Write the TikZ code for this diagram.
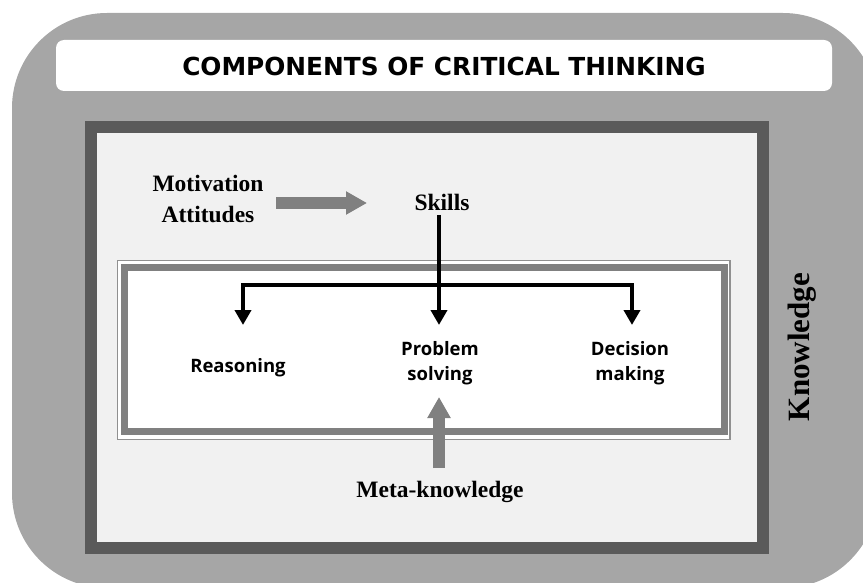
\documentclass[tikz,border=0pt]{standalone}
\usepackage{fontspec}
\setmainfont{Liberation Serif}
\newfontfamily\titlefont{DejaVu Sans}
\newfontfamily\handfont{Open Sans}
\usepackage{tikz}
\usetikzlibrary{arrows.meta}

\definecolor{outerGray}{HTML}{A6A6A6}
\definecolor{frameDark}{HTML}{5A5A5A}
\definecolor{panelGray}{HTML}{F1F1F1}
\definecolor{arrowGray}{HTML}{808080}
\definecolor{lineGray}{HTML}{909090}

\begin{document}
\begin{tikzpicture}[x=1pt,y=-1pt]
		\useasboundingbox (0,0) rectangle (863,583);
		% frames
		\begin{scope}
			\clip (0,0) rectangle (863,583);
			\fill[outerGray, rounded corners=95pt] (12,13) rectangle (878,588);
		\end{scope}
		\fill[white, rounded corners=8pt] (56,40) rectangle (832,91);
		\draw[frameDark, line width=12pt, fill=panelGray] (91,127) rectangle (762.5,548);
		\draw[lineGray, line width=1.5pt, fill=white] (117.5,260.5) rectangle (730,439.5);
		\draw[arrowGray, line width=7pt] (124,267) rectangle (724,431.5);

		\begin{scope}
			[
				styleTitle/.style={font=\titlefont\bfseries\fontsize{24.8}{28}\selectfont},
				styleSerif/.style={font=\bfseries\fontsize{23.5}{31}\selectfont, align=center},
				styleHand/.style={font=\handfont\bfseries\fontsize{18.5}{25}\selectfont, align=center},
			]
			\node(title)[styleTitle] at (444,66) {COMPONENTS OF CRITICAL THINKING};
			\node(motiv)[styleSerif] at (208,198.5) {Motivation\\Attitudes};
			\node(skills)[styleSerif] at (442,202) {Skills};
			\node(reas)[styleHand] at (238,368) {Reasoning};
			\node(prob)[styleHand] at (440,363.5) {Problem\\solving};
			\node(dec)[styleHand] at (630,363.5) {Decision\\making};
			\node(meta)[styleSerif] at (440,492) {Meta-knowledge};
			\node(know)[styleSerif, font=\bfseries\fontsize{31}{36}\selectfont, rotate=90] at (802,347) {Knowledge};

			\coordinate(motivOut) at (276,203);
			\coordinate(skillsIn) at (367,203);
			\coordinate(skillsOut) at (439,215);
			\coordinate(branchTop) at (439,285);
			\coordinate(reasTip) at (243,325);
			\coordinate(probTip) at (439,325);
			\coordinate(decTip) at (632,325);
			\coordinate(metaOut) at (439,468);
			\coordinate(probIn) at (439,397);
		\end{scope}

		\begin{scope}
			[ grayArrow/.style = {draw=arrowGray, line width=11.5pt, -{Triangle[length=21pt,width=22pt]}},
				blackArrow/.style = {draw=black, line width=4pt}]
			\path
			(motivOut) edge[grayArrow] 		(skillsIn)
			(metaOut) edge[grayArrow] 		(probIn)
			(skillsOut) edge[blackArrow, -{Triangle[length=15pt,width=16pt]}] (probTip);
			\draw[blackArrow, {Triangle[length=15pt,width=16pt]}-{Triangle[length=15pt,width=16pt]}]
				(reasTip) -- (reasTip |- branchTop) -- (decTip |- branchTop) -- (decTip);
		\end{scope}
	\end{tikzpicture}
\end{document}
